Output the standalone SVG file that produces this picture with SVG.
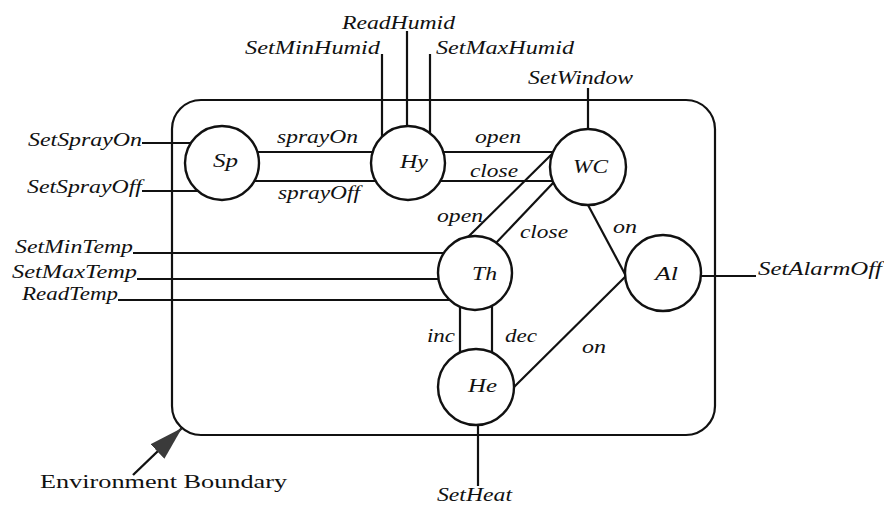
<svg xmlns="http://www.w3.org/2000/svg" width="884" height="506" viewBox="0 0 884 506">
  <style>
    .bg { fill: #ffffff; }
    .boundary { fill: none; stroke: #111; stroke-width: 2.2; }
    .node circle { fill: #ffffff; stroke: #111; stroke-width: 2.4; }
    .conn line { stroke: #111; stroke-width: 2.2; stroke-linecap: butt; }
    .lbl { font-family: "Liberation Serif", "Times New Roman", serif; font-style: italic; font-size: 18px; fill: #111; }
    .caption { font-family: "Liberation Serif", "Times New Roman", serif; font-size: 19px; fill: #111; }
  </style>
  <defs>
    <marker id="pointer" viewBox="0 0 34 20" refX="34" refY="10" markerWidth="34" markerHeight="20" markerUnits="userSpaceOnUse" orient="auto">
      <path d="M0,0 L34,10 L0,20 Z" fill="#3a3a3a"/>
    </marker>
  </defs>

  <rect class="bg" x="0" y="0" width="884" height="506"/>

  <!-- environment boundary -->
  <rect id="environment-boundary" class="boundary" x="172" y="100" width="543" height="335" rx="29" ry="29"/>

  <!-- connectors -->
  <g id="connectors" class="conn">
    <!-- external inputs -->
    <line x1="142" y1="143" x2="192" y2="143"/>
    <line x1="142" y1="191" x2="198" y2="191"/>
    <line x1="133" y1="253" x2="443" y2="253"/>
    <line x1="137" y1="279" x2="438" y2="279"/>
    <line x1="118" y1="300" x2="450" y2="300"/>
    <line x1="382" y1="54" x2="382" y2="137"/>
    <line x1="407" y1="31" x2="407" y2="126"/>
    <line x1="430" y1="54" x2="430" y2="133"/>
    <line x1="588" y1="88" x2="588" y2="129"/>
    <line x1="701" y1="276" x2="756" y2="276"/>
    <line x1="478" y1="425" x2="478" y2="486"/>
    <!-- Sp - Hy -->
    <line x1="257" y1="152" x2="373" y2="152"/>
    <line x1="254" y1="181" x2="376" y2="181"/>
    <!-- Hy - WC -->
    <line x1="443" y1="152" x2="553" y2="152"/>
    <line x1="440" y1="181" x2="553" y2="181"/>
    <!-- WC - Th -->
    <line x1="553" y1="153" x2="465" y2="240"/>
    <line x1="553" y1="183" x2="495" y2="244"/>
    <!-- WC - Al -->
    <line x1="588" y1="205" x2="626" y2="276"/>
    <!-- He - Al -->
    <line x1="513" y1="388" x2="626" y2="276"/>
    <!-- Th - He -->
    <line x1="460" y1="307" x2="460" y2="353"/>
    <line x1="492" y1="306" x2="492" y2="352"/>
    <!-- boundary pointer -->
    <line x1="133" y1="475" x2="182" y2="428" marker-end="url(#pointer)" style="stroke-width:2.4"/>
  </g>

  <!-- connector labels -->
  <g id="connector-labels" class="lbl">
    <text x="342" y="29" textLength="113" lengthAdjust="spacingAndGlyphs">ReadHumid</text>
    <text x="245" y="54" textLength="135" lengthAdjust="spacingAndGlyphs">SetMinHumid</text>
    <text x="436" y="54" textLength="138" lengthAdjust="spacingAndGlyphs">SetMaxHumid</text>
    <text x="528" y="84" textLength="105" lengthAdjust="spacingAndGlyphs">SetWindow</text>
    <text x="28" y="146" textLength="114" lengthAdjust="spacingAndGlyphs">SetSprayOn</text>
    <text x="27" y="193" textLength="115" lengthAdjust="spacingAndGlyphs">SetSprayOff</text>
    <text x="277" y="143" textLength="81" lengthAdjust="spacingAndGlyphs">sprayOn</text>
    <text x="278" y="199" textLength="82" lengthAdjust="spacingAndGlyphs">sprayOff</text>
    <text x="475" y="143" textLength="46" lengthAdjust="spacingAndGlyphs">open</text>
    <text x="470" y="177" textLength="48" lengthAdjust="spacingAndGlyphs">close</text>
    <text x="437" y="222" textLength="46" lengthAdjust="spacingAndGlyphs">open</text>
    <text x="520" y="238" textLength="48" lengthAdjust="spacingAndGlyphs">close</text>
    <text x="613" y="233" textLength="24" lengthAdjust="spacingAndGlyphs">on</text>
    <text x="582" y="353" textLength="24" lengthAdjust="spacingAndGlyphs">on</text>
    <text x="427" y="342" textLength="28" lengthAdjust="spacingAndGlyphs">inc</text>
    <text x="505" y="342" textLength="32" lengthAdjust="spacingAndGlyphs">dec</text>
    <text x="15" y="253" textLength="118" lengthAdjust="spacingAndGlyphs">SetMinTemp</text>
    <text x="12" y="278" textLength="125" lengthAdjust="spacingAndGlyphs">SetMaxTemp</text>
    <text x="22" y="300" textLength="96" lengthAdjust="spacingAndGlyphs">ReadTemp</text>
    <text x="758" y="275" textLength="124" lengthAdjust="spacingAndGlyphs">SetAlarmOff</text>
    <text x="437" y="501" textLength="75" lengthAdjust="spacingAndGlyphs">SetHeat</text>
  </g>

  <!-- nodes -->
  <g id="node-Sp" class="node">
    <circle cx="222" cy="163" r="37"/>
    <text class="lbl" x="213" y="167" textLength="25" lengthAdjust="spacingAndGlyphs">Sp</text>
  </g>
  <g id="node-Hy" class="node">
    <circle cx="408" cy="163" r="37"/>
    <text class="lbl" x="400" y="168" textLength="28" lengthAdjust="spacingAndGlyphs">Hy</text>
  </g>
  <g id="node-WC" class="node">
    <circle cx="588" cy="167" r="38"/>
    <text class="lbl" x="573" y="173" textLength="35" lengthAdjust="spacingAndGlyphs">WC</text>
  </g>
  <g id="node-Th" class="node">
    <circle cx="475" cy="273" r="37"/>
    <text class="lbl" x="472" y="280" textLength="25" lengthAdjust="spacingAndGlyphs">Th</text>
  </g>
  <g id="node-Al" class="node">
    <circle cx="663" cy="273" r="38"/>
    <text class="lbl" x="655" y="280" textLength="23" lengthAdjust="spacingAndGlyphs">Al</text>
  </g>
  <g id="node-He" class="node">
    <circle cx="476" cy="387" r="38"/>
    <text class="lbl" x="468" y="392" textLength="29" lengthAdjust="spacingAndGlyphs">He</text>
  </g>

  <!-- caption -->
  <text id="boundary-caption" class="caption" x="40" y="488" textLength="247" lengthAdjust="spacingAndGlyphs">Environment Boundary</text>
</svg>
